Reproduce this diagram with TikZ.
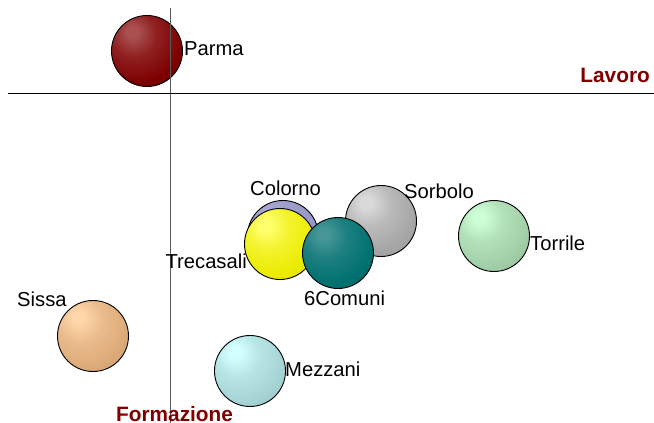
\documentclass[tikz,border=0pt]{standalone}
\usepackage{fontspec}
\setmainfont{Liberation Sans}
\definecolor{axisred}{RGB}{128,0,0}
\colorlet{bubin}{white}
\colorlet{bubout}{black}
\pgfdeclareradialshading[bubin,bubout]{bubble}{\pgfpoint{-11bp}{14bp}}{color(0bp)=(bubin); color(4bp)=(bubin); color(16bp)=(bubin!40!bubout); color(32bp)=(bubout); color(58bp)=(bubout!82!black); color(100bp)=(bubout!82!black)}
\tikzset{
	bubble/.style n args={2}{circle, draw=black, line width=0.9pt, minimum size=71, inner sep=0pt,
		/utils/exec={\colorlet{bubin}{#1}\colorlet{bubout}{#2}}, shading=bubble},
	town/.style={inner sep=0pt, font=\fontsize{20.2}{22}\selectfont},
	axislabel/.style={inner sep=0pt, text=axisred, font=\fontsize{20.8}{22}\selectfont\bfseries}
}
\begin{document}
\begin{tikzpicture}[x=1pt,y=-1pt]
	\useasboundingbox (0,0) rectangle (654,423);
	% bubbles
	\node (Parma)		at (147,  51)	[bubble={rgb,255:red,170;green,80;blue,80}{rgb,255:red,125;green,0;blue,0}]		{};
	\node (Sissa)		at ( 93, 336)	[bubble={rgb,255:red,255;green,215;blue,170}{rgb,255:red,220;green,170;blue,120}]	{};
	\node (Mezzani)		at (250, 371)	[bubble={rgb,255:red,210;green,255;blue,255}{rgb,255:red,165;green,210;blue,210}]	{};
	\node (Torrile)		at (494, 236)	[bubble={rgb,255:red,205;green,255;blue,215}{rgb,255:red,160;green,205;blue,165}]	{};
	\node (Sorbolo)		at (381, 221)	[bubble={rgb,255:red,218;green,218;blue,218}{rgb,255:red,165;green,165;blue,165}]	{};
	\node (Colorno)		at (283, 236)	[bubble={rgb,255:red,170;green,170;blue,210}{rgb,255:red,150;green,150;blue,200}]	{};
	\node (Trecasali)	at (280, 244)	[bubble={rgb,255:red,255;green,255;blue,110}{rgb,255:red,235;green,235;blue,0}]		{};
	\node (6Comuni)		at (338, 253)	[bubble={rgb,255:red,70;green,150;blue,150}{rgb,255:red,0;green,112;blue,112}]		{};
	% axes
	\coordinate (ytop) at (170,   8);
	\coordinate (ybot) at (170, 423);
	\coordinate (xleft) at (  8,  93);
	\coordinate (xright) at (654,  93);
	\draw[black!65, line width=0.8pt] (ytop) -- (ybot);
	\draw[black, line width=0.9pt] (xleft) -- (xright);
	% labels
	\node (lParma)		at (184,  55)	[town, anchor=base west]	{Parma};
	\node (lColorno)	at (250, 195)	[town, anchor=base west]	{Colorno};
	\node (lSorbolo)	at (404, 198)	[town, anchor=base west]	{Sorbolo};
	\node (lTorrile)	at (530, 250)	[town, anchor=base west]	{Torrile};
	\node (lTrecasali)	at (247, 268)	[town, anchor=base east]	{Trecasali};
	\node (l6Comuni)	at (304, 305)	[town, anchor=base west]	{6Comuni};
	\node (lSissa)		at ( 17, 306)	[town, anchor=base west]	{Sissa};
	\node (lMezzani)	at (285, 376)	[town, anchor=base west]	{Mezzani};
	\node (Lavoro)		at (650,  82)	[axislabel, anchor=base east]	{Lavoro};
	\node (Formazione)	at (116, 421)	[axislabel, anchor=base west]	{Formazione};
\end{tikzpicture}
\end{document}
